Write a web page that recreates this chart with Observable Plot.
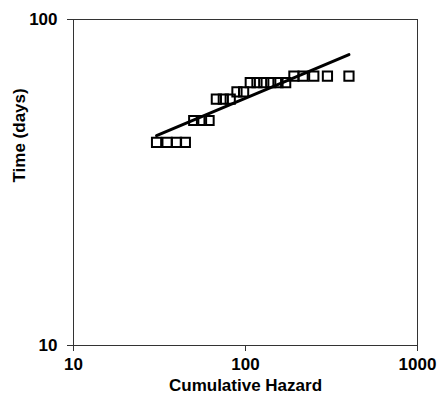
<!DOCTYPE html>
<html>
<head>
<meta charset="utf-8">
<script src="https://cdn.jsdelivr.net/npm/d3@7"></script>
<script src="https://cdn.jsdelivr.net/npm/@observablehq/plot@0.6"></script>
<style>
  html, body { margin: 0; padding: 0; background: white; }
</style>
</head>
<body>
<div id="chart"></div>
<script>
const hazard = [30.4, 35.0, 39.7, 44.7, 50.0, 55.5, 61.4, 67.7, 74.3, 81.5, 89.2, 97.5, 106.6, 116.6, 127.7, 140.2, 154.5, 171.2, 191.2, 216.2, 249.5, 299.5, 399.5];
const days = [42, 42, 42, 42, 49, 49, 49, 57, 57, 57, 60, 60, 64, 64, 64, 64, 64, 64, 67, 67, 67, 67, 67];
const fitHazard = [30.4, 399.5];
const fitDays = [44.0, 78.0];
const xTicks = [10, 100, 1000];
const yTicks = [10, 100];
const xLabel = "Cumulative Hazard";
const yLabel = "Time (days)";

const points = hazard.map((h, i) => ({h, t: days[i]}));
const fit = fitHazard.map((h, i) => ({h, t: fitDays[i]}));

const chart = Plot.plot({
  width: 440,
  height: 408,
  marginLeft: 73,
  marginRight: 23,
  marginTop: 19,
  marginBottom: 63,
  style: {fontFamily: "'Liberation Sans', Arial, sans-serif", fontWeight: "bold", fontSize: "17px", color: "black", background: "white"},
  x: {type: "log", domain: [10, 1000]},
  y: {type: "log", domain: [10, 100]},
  marks: [
    Plot.frame({stroke: "#333", strokeWidth: 1}),
    Plot.axisX({ticks: xTicks, tickSize: 6, tickPadding: 6, tickFormat: d => String(d), label: null, stroke: "#333", fontSize: 17}),
    Plot.axisY({ticks: yTicks, tickSize: 6, tickPadding: 10, tickFormat: d => String(d), label: null, stroke: "#333", fontSize: 17}),
    Plot.dot(points, {x: "h", y: "t", symbol: "square", r: 5.2, stroke: "black", strokeWidth: 2, fill: "none"}),
    Plot.line(fit, {x: "h", y: "t", stroke: "black", strokeWidth: 3}),
    Plot.text([xLabel], {text: d => d, frameAnchor: "bottom", dy: 45, fontSize: 17, fontWeight: "bold", fill: "black"}),
    Plot.text([yLabel], {text: d => d, frameAnchor: "left", dx: -54, rotate: -90, fontSize: 17, fontWeight: "bold", fill: "black"})
  ]
});
document.getElementById("chart").appendChild(chart);
</script>
</body>
</html>
